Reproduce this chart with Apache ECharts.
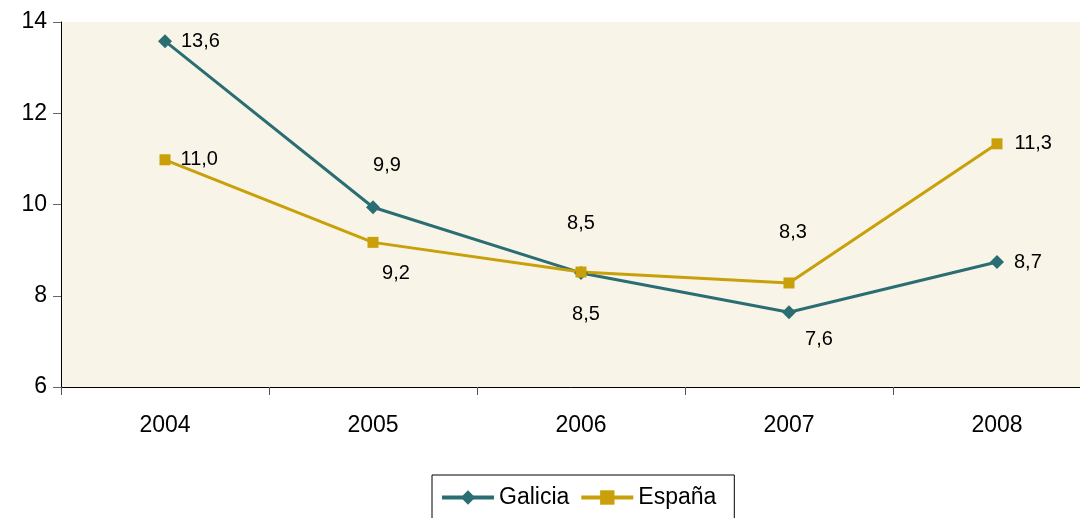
<!DOCTYPE html>
<html><head><meta charset="utf-8">
<script src="https://cdn.jsdelivr.net/npm/echarts@6/dist/echarts.min.js"></script>
<style>html,body{margin:0;padding:0;background:#fff}#c{width:1080px;height:518px}</style>
</head><body><div id="c"></div>
<script>
const categories = ['2004','2005','2006','2007','2008'];
const galicia = [13.58, 9.94, 8.5, 7.64, 8.74];
const espana = [10.98, 9.17, 8.52, 8.28, 11.33];
const galiciaLabelPos = ['right','top','top','bottom','right'];
const espanaLabelPos = ['right','bottom','bottom','top','right'];
const yTicks = [6, 8, 10, 12, 14];

const fmt = p => p.value.toFixed(1).replace('.', ',');
const FONT = 'Liberation Sans, Arial, sans-serif';
function mk(vals, pos, offsets) {
  return vals.map((v, i) => ({value: v, label: {position: pos[i], offset: offsets[i]}}));
}
const chart = echarts.init(document.getElementById('c'));
chart.setOption({
  animation: false,
  backgroundColor: '#fff',
  grid: {left: 61, width: 1040, top: 22, height: 365, outerBoundsMode: 'none', containLabel: false,
    show: true, backgroundColor: '#f8f4e8', borderWidth: 0},
  legend: {
    top: 475, left: 432, itemWidth: 52, itemHeight: 18, itemGap: 10,
    borderColor: '#000', borderWidth: 1, padding: [11, 18, 15, 8],
    lineStyle: {width: 4},
    textStyle: {fontFamily: FONT, fontSize: 23, color: '#000'},
    data: ['Galicia', 'España']
  },
  xAxis: {
    type: 'category', data: categories, boundaryGap: true,
    axisLine: {lineStyle: {color: '#000', width: 1}},
    axisTick: {show: true, length: 8, lineStyle: {color: '#555'}},
    axisLabel: {fontFamily: FONT, fontSize: 23, color: '#000', margin: 27}
  },
  yAxis: {
    type: 'value', min: 6, max: 14, interval: 2,
    axisLine: {show: true, lineStyle: {color: '#000', width: 1}},
    axisTick: {show: true, length: 8, lineStyle: {color: '#666'}},
    splitLine: {show: false},
    axisLabel: {fontFamily: FONT, fontSize: 23, color: '#000', margin: 14,
      formatter: v => yTicks.includes(v) ? String(v) : ''}
  },
  series: [
    {
      name: 'Galicia', type: 'line', data: mk(galicia, galiciaLabelPos, [[1,0],[14,-17],[0,-24],[30,2],[2,0]]),
      symbol: 'diamond', symbolSize: 14, color: '#2a6e73',
      lineStyle: {width: 3, color: '#2a6e73'}, itemStyle: {color: '#2a6e73'},
      label: {show: true, formatter: fmt, fontFamily: FONT, fontSize: 20, color: '#000', distance: 8}
    },
    {
      name: 'España', type: 'line', data: mk(espana, espanaLabelPos, [[2,0],[23,8],[5,19],[4,-27],[4,0]]),
      symbol: 'rect', symbolSize: 11, color: '#c9a00a',
      lineStyle: {width: 3, color: '#c9a00a'}, itemStyle: {color: '#c9a00a'},
      label: {show: true, formatter: fmt, fontFamily: FONT, fontSize: 20, color: '#000', distance: 8}
    }
  ]
});
</script></body></html>
